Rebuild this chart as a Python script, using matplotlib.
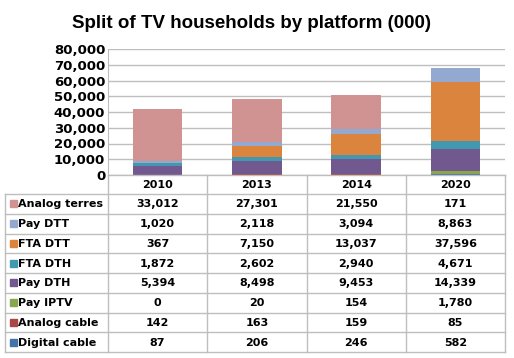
import matplotlib.pyplot as plt
import numpy as np

years = ['2010', '2013', '2014', '2020']
# stack order bottom -> top
platforms = ['Digital cable', 'Analog cable', 'Pay IPTV', 'Pay DTH',
             'FTA DTH', 'FTA DTT', 'Pay DTT', 'Analog terres']
digital_cable = [87, 206, 246, 582]
analog_cable = [142, 163, 159, 85]
pay_iptv = [0, 20, 154, 1780]
pay_dth = [5394, 8498, 9453, 14339]
fta_dth = [1872, 2602, 2940, 4671]
fta_dtt = [367, 7150, 13037, 37596]
pay_dtt = [1020, 2118, 3094, 8863]
analog_terres = [33012, 27301, 21550, 171]
series = [digital_cable, analog_cable, pay_iptv, pay_dth,
          fta_dth, fta_dtt, pay_dtt, analog_terres]
colors = ['#4572A7', '#AA4643', '#89A54E', '#71588F',
          '#4198AF', '#DB843D', '#93A9CF', '#D19392']

W, H = 514, 358
fig = plt.figure(figsize=(W / 100, H / 100), dpi=100)
fig.patch.set_facecolor('white')

# layout in pixels
x0, x1 = 108, 505
y_top, y_zero = 49, 175
hdr_bot = 194
tab_bot = 352
left = 5

ax = fig.add_axes([x0 / W, 1 - y_zero / H, (x1 - x0) / W, (y_zero - y_top) / H])
x = np.arange(len(years))
bottom = np.zeros(len(years))
for vals, c in zip(series, colors):
    ax.bar(x, vals, 0.5, bottom=bottom, color=c, zorder=3)
    bottom += np.array(vals)
ax.set_xlim(-0.5, len(years) - 0.5)
ax.set_ylim(0, 80000)
ax.set_yticks(range(0, 80001, 10000))
ax.set_yticklabels([f'{v:,}' for v in range(0, 80001, 10000)],
                   fontsize=9.5, fontweight='bold', family='DejaVu Sans')
ax.set_xticks([])
ax.tick_params(axis='y', length=0, pad=2)
ax.grid(axis='y', color='#BEBEBE', lw=1, zorder=0)
for s in ['top', 'right']:
    ax.spines[s].set_visible(False)
ax.spines['left'].set_color('#BEBEBE')
ax.spines['bottom'].set_visible(False)

# table overlay
tx = fig.add_axes([0, 0, 1, 1], zorder=5)
tx.set_xlim(0, W)
tx.set_ylim(H, 0)
tx.axis('off')
tx.patch.set_alpha(0)
lc = '#BEBEBE'
cols = np.linspace(x0, x1, len(years) + 1)
tx.plot([x0, x1], [y_zero, y_zero], color=lc, lw=1)
for cx in cols:
    tx.plot([cx, cx], [y_zero, tab_bot], color=lc, lw=1)
tx.plot([left, left], [hdr_bot, tab_bot], color=lc, lw=1)
rows = np.linspace(hdr_bot, tab_bot, len(platforms) + 1)
for ry in rows:
    tx.plot([left, x1], [ry, ry], color=lc, lw=1)

fs = 8
for i, yr in enumerate(years):
    tx.text((cols[i] + cols[i + 1]) / 2, (y_zero + hdr_bot) / 2 + 1, yr,
            ha='center', va='center', fontsize=fs, fontweight='bold')

for r, k in enumerate(range(len(platforms) - 1, -1, -1)):
    yc = (rows[r] + rows[r + 1]) / 2
    tx.add_patch(plt.Rectangle((10, yc - 3.5), 7, 7, color=colors[k]))
    tx.text(18, yc + 0.5, platforms[k], ha='left', va='center',
            fontsize=fs, fontweight='bold')
    for i, v in enumerate(series[k]):
        tx.text((cols[i] + cols[i + 1]) / 2, yc + 0.5, f'{v:,}',
                ha='center', va='center', fontsize=fs, fontweight='bold')

fig.text(251 / W, 1 - 23 / H, 'Split of TV households by platform (000)',
         ha='center', va='center', fontsize=13.5, fontweight='bold',
         family='Liberation Sans')

fig.savefig('out.png', dpi=100)
